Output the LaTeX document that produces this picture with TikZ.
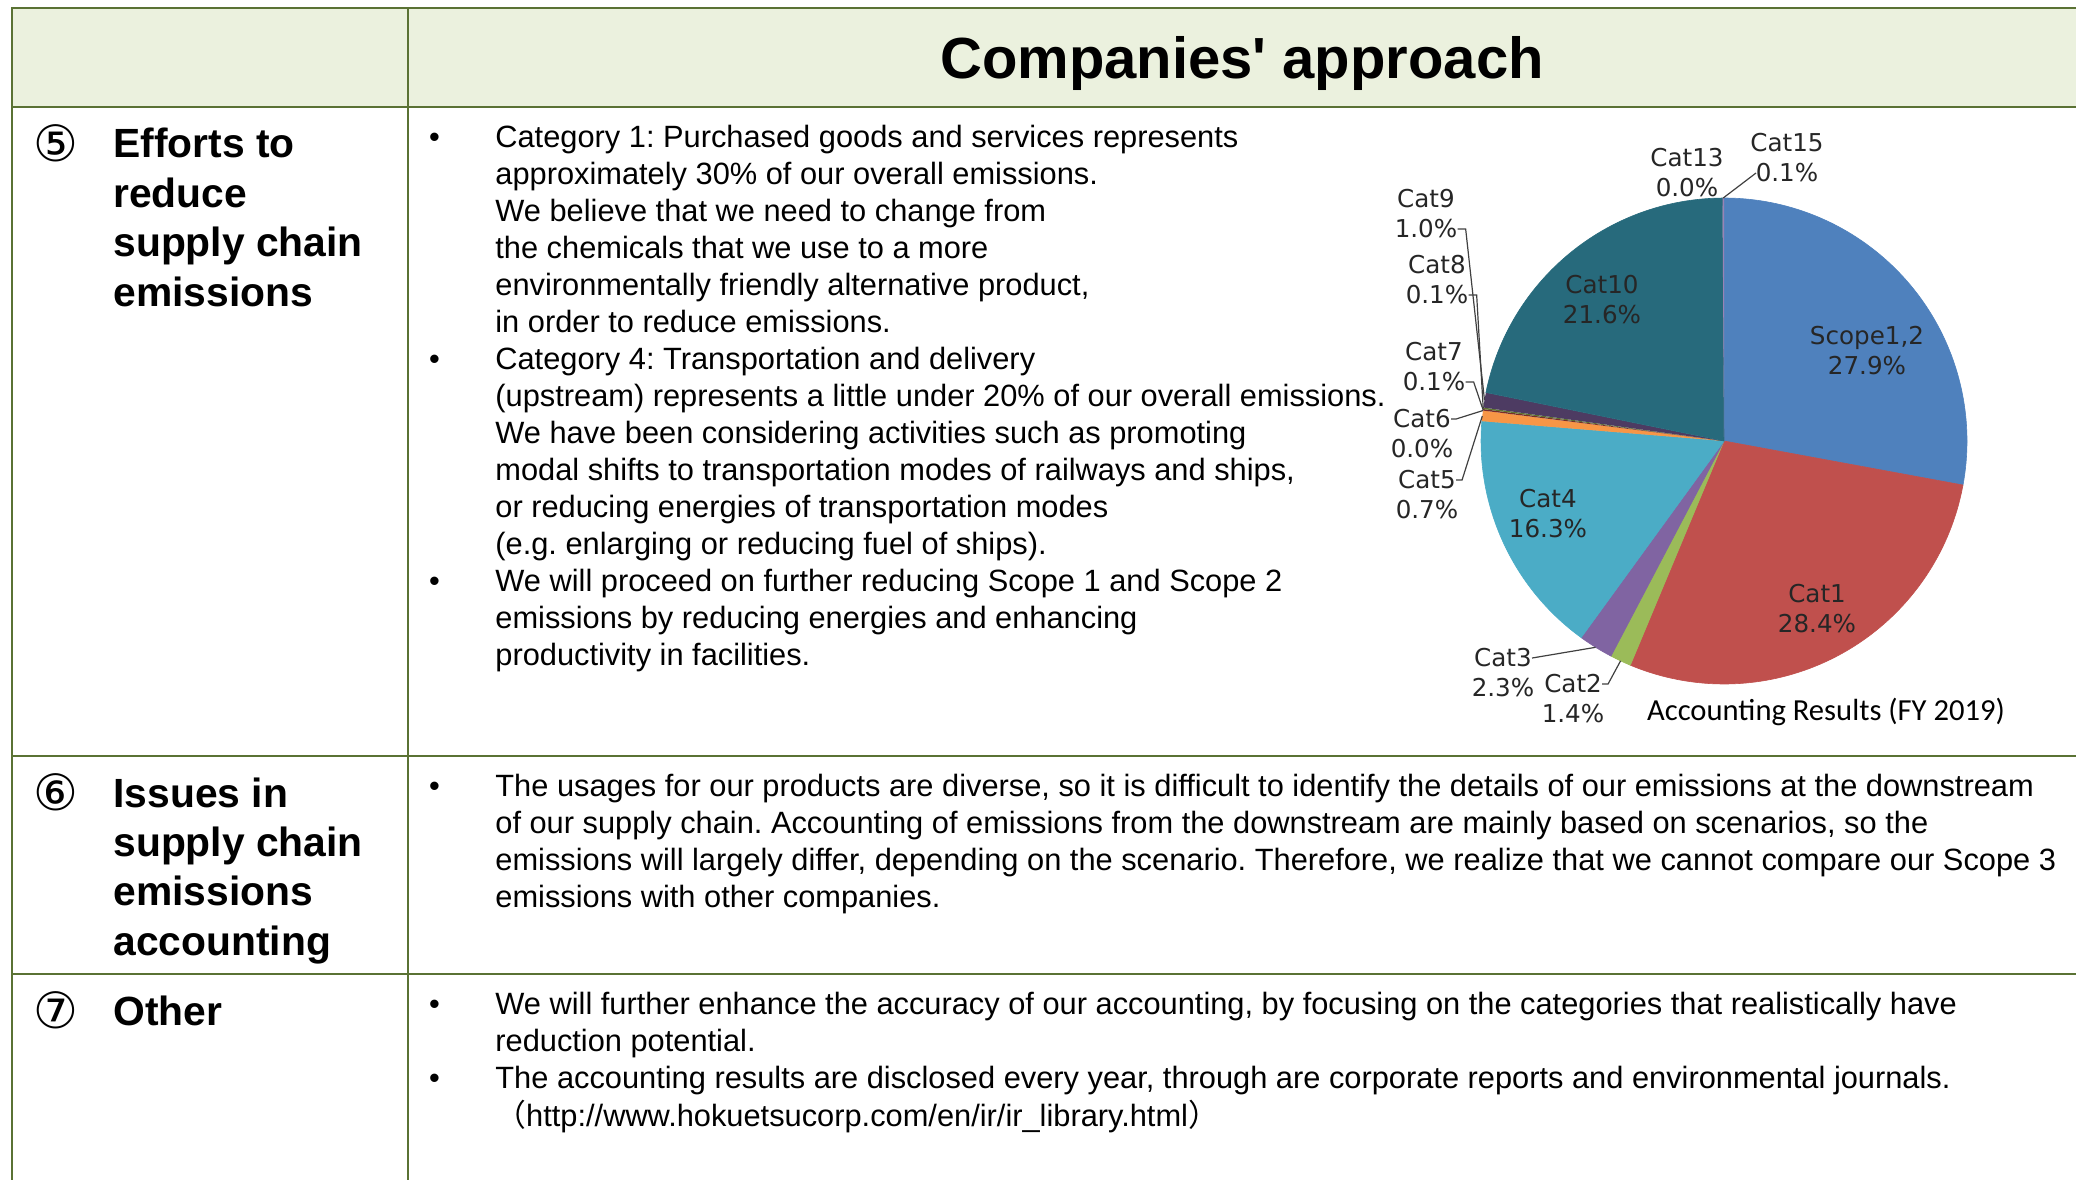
\documentclass[tikz,border=0pt]{standalone}
\usepackage{fontspec}
\setmainfont{Liberation Sans}
\newfontfamily\numfont{DejaVu Sans}
\newfontfamily\piefont{DejaVu Sans}
\newfontfamily\capfont{Carlito}
\newfontfamily\cjk{Noto Sans CJK JP}
\usepackage{xcolor}
\definecolor{rulegreen}{HTML}{5A7234}
\definecolor{headfill}{HTML}{EBF1DE}
\definecolor{cscope}{HTML}{4F81BD}
\definecolor{cone}{HTML}{C0504D}
\definecolor{ctwo}{HTML}{9BBB59}
\definecolor{cthree}{HTML}{8064A2}
\definecolor{cfour}{HTML}{4BACC6}
\definecolor{cfive}{HTML}{F79646}
\definecolor{cseven}{HTML}{772C2A}
\definecolor{ceight}{HTML}{5F7530}
\definecolor{cnine}{HTML}{4D3B62}
\definecolor{cten}{HTML}{276A7C}
\definecolor{cfifteen}{HTML}{9983B5}
\usepackage{tikz}
\newcommand{\circnum}[1]{\smash{\raisebox{-1.8pt}{\numfont\mdseries\fontsize{25pt}{24.7pt}\selectfont #1}}}
\frenchspacing

\begin{document}
\begin{tikzpicture}[x=0.5pt,y=0.5pt,
    grid/.style={draw=rulegreen,line width=1.2pt},
    body/.style={inner sep=0pt,anchor=north west,font=\fontsize{15.4pt}{18.5pt}\selectfont},
    side/.style={inner sep=0pt,anchor=north west,font=\fontsize{20.4pt}{24.7pt}\selectfont\bfseries},
    lbl/.style={inner sep=0pt,align=center,text=black!85,font=\piefont\fontsize{12.3pt}{15pt}\selectfont},
    lead/.style={draw=black!75,line width=0.6pt},
    wedge/.style={draw=white,line width=0.3pt}]
  \useasboundingbox (0,0) rectangle (2076,-1180);

  % table
  \fill[headfill] (12,-8) rectangle (2076,-107);
  \draw[grid] (2076,-8) -- (12,-8) -- (12,-1180);
  \draw[grid] (408,-8) -- (408,-1180);
  \draw[grid] (12,-107) -- (2076,-107);
  \draw[grid] (12,-756) -- (2076,-756);
  \draw[grid] (12,-974) -- (2076,-974);

  \node[font=\fontsize{29pt}{34pt}\selectfont\bfseries] (title) at (1242,-63) {Companies\textquotesingle{} approach};

  % left column
  \node[side] (efforts) at (33,-123) {\begin{tabular}{@{}p{40pt}@{}l@{}}
    \circnum{⑤} & Efforts to\\ & reduce\\ & supply chain\\ & emissions\end{tabular}};
  \node[side] (issues) at (33,-772) {\begin{tabular}{@{}p{40pt}@{}l@{}}
    \circnum{⑥} & Issues in\\ & supply chain\\ & emissions\\ & accounting\end{tabular}};
  \node[side] (other) at (33,-990) {\begin{tabular}{@{}p{40pt}@{}l@{}}
    \circnum{⑦} & Other\end{tabular}};

  % right column
  \node[body] (effortstext) at (428.6,-121) {\begin{tabular}{@{}p{33.2pt}@{}l@{}}
    \textbullet & Category 1: Purchased goods and services represents\\
    & approximately 30\% of our overall emissions.\\
    & We believe that we need to change from\\
    & the chemicals that we use to a more\\
    & environmentally friendly alternative product,\\
    & in order to reduce emissions.\\
    \textbullet & Category 4: Transportation and delivery\\
    & (upstream) represents a little under 20\% of our overall emissions.\\
    & We have been considering activities such as promoting\\
    & modal shifts to transportation modes of railways and ships,\\
    & or reducing energies of transportation modes\\
    & (e.g. enlarging or reducing fuel of ships).\\
    \textbullet & We will proceed on further reducing Scope 1 and Scope 2\\
    & emissions by reducing energies and enhancing\\
    & productivity in facilities.\end{tabular}};
  \node[body] (issuestext) at (428.6,-770) {\begin{tabular}{@{}p{33.2pt}@{}l@{}}
    \textbullet & The usages for our products are diverse, so it is difficult to identify the details of our emissions at the downstream\\
    & of our supply chain. Accounting of emissions from the downstream are mainly based on scenarios, so the\\
    & emissions will largely differ, depending on the scenario. Therefore, we realize that we cannot compare our Scope 3\\
    & emissions with other companies.\end{tabular}};
  \node[body] (othertext) at (428.6,-988.6) {\begin{tabular}{@{}p{33.2pt}@{}l@{}}
    \textbullet & We will further enhance the accuracy of our accounting, by focusing on the categories that realistically have\\
    & reduction potential.\\
    \textbullet & The accounting results are disclosed every year, through are corporate reports and environmental journals.\\
    & {\cjk （}http://www.hokuetsucorp.com/en/ir/ir\_library.html{\cjk ）}\end{tabular}};

  % pie chart
  \coordinate (pc) at (1724,-441);
  \fill[wedge,cscope] (pc) -- ++(90:243) arc[start angle=90,end angle=-10.44,radius=243] -- cycle;
  \fill[wedge,cone] (pc) -- ++(-10.44:243) arc[start angle=-10.44,end angle=-112.68,radius=243] -- cycle;
  \fill[wedge,ctwo] (pc) -- ++(-112.68:243) arc[start angle=-112.68,end angle=-117.72,radius=243] -- cycle;
  \fill[wedge,cthree] (pc) -- ++(-117.72:243) arc[start angle=-117.72,end angle=-126,radius=243] -- cycle;
  \fill[wedge,cfour] (pc) -- ++(-126:243) arc[start angle=-126,end angle=-184.68,radius=243] -- cycle;
  \fill[cfive] (pc) -- ++(-184.68:243) arc[start angle=-184.68,end angle=-187.2,radius=243] -- cycle;
  \fill[cseven] (pc) -- ++(-187.2:243) arc[start angle=-187.2,end angle=-187.56,radius=243] -- cycle;
  \fill[ceight] (pc) -- ++(-187.56:243) arc[start angle=-187.56,end angle=-187.92,radius=243] -- cycle;
  \fill[cnine] (pc) -- ++(-187.92:243) arc[start angle=-187.92,end angle=-191.52,radius=243] -- cycle;
  \fill[wedge,cten] (pc) -- ++(-191.52:243) arc[start angle=-191.52,end angle=-269.64,radius=243] -- cycle;
  \fill[cfifteen] (pc) -- ++(-269.64:243) arc[start angle=-269.64,end angle=-270,radius=243] -- cycle;

  \node[lbl] (scope12) at (1867,-351) {Scope1,2\\27.9\%};
  \node[lbl] (cat1) at (1817,-609) {Cat1\\28.4\%};
  \node[lbl] (cat10) at (1602,-300) {Cat10\\21.6\%};
  \node[lbl] (cat4) at (1548,-514) {Cat4\\16.3\%};
  \node[lbl] (cat13) at (1687,-173) {Cat13\\0.0\%};
  \node[lbl] (cat15) at (1787,-158) {Cat15\\0.1\%};
  \node[lbl] (cat9) at (1426,-214) {Cat9\\1.0\%};
  \node[lbl] (cat8) at (1437,-280) {Cat8\\0.1\%};
  \node[lbl] (cat7) at (1434,-367) {Cat7\\0.1\%};
  \node[lbl] (cat6) at (1422,-434) {Cat6\\0.0\%};
  \node[lbl] (cat5) at (1427,-495) {Cat5\\0.7\%};
  \node[lbl] (cat3) at (1503,-673) {Cat3\\2.3\%};
  \node[lbl] (cat2) at (1573,-699) {Cat2\\1.4\%};
  \node[font=\capfont\fontsize{15.3pt}{18pt}\selectfont] (caption) at (1826,-712) {Accounting Results (FY 2019)};

  \coordinate (e15) at ([shift={(90.2:243)}]pc);
  \coordinate (e9) at ([shift={(170.3:243)}]pc);
  \coordinate (e8) at ([shift={(172.3:243)}]pc);
  \coordinate (e7) at ([shift={(172.6:243)}]pc);
  \coordinate (e6) at ([shift={(172.8:243)}]pc);
  \coordinate (e5) at ([shift={(174.1:243)}]pc);
  \coordinate (e3) at ([shift={(238.1:243)}]pc);
  \coordinate (e2) at ([shift={(244.8:243)}]pc);
  \draw[lead] ([xshift=3pt,yshift=-7.5pt]cat15.west) -- (e15);
  \draw[lead] ([yshift=-7.5pt]cat9.east) -- ++(8,0) -- (e9);
  \draw[lead] ([yshift=-7.5pt]cat8.east) -- ++(8,0) -- (e8);
  \draw[lead] ([yshift=-7.5pt]cat7.east) -- ++(8,0) -- (e7);
  \draw[lead] ([xshift=-1.3pt,yshift=7.5pt]cat6.east) -- ++(5,0) -- (e6);
  \draw[lead] ([xshift=-1.3pt,yshift=7.5pt]cat5.east) -- ++(6,0) -- (e5);
  \draw[lead] ([xshift=-1.3pt,yshift=7.5pt]cat3.east) -- (e3);
  \draw[lead] ([xshift=-1.3pt,yshift=7.5pt]cat2.east) -- ++(6,0) -- (e2);
\end{tikzpicture}
\end{document}
